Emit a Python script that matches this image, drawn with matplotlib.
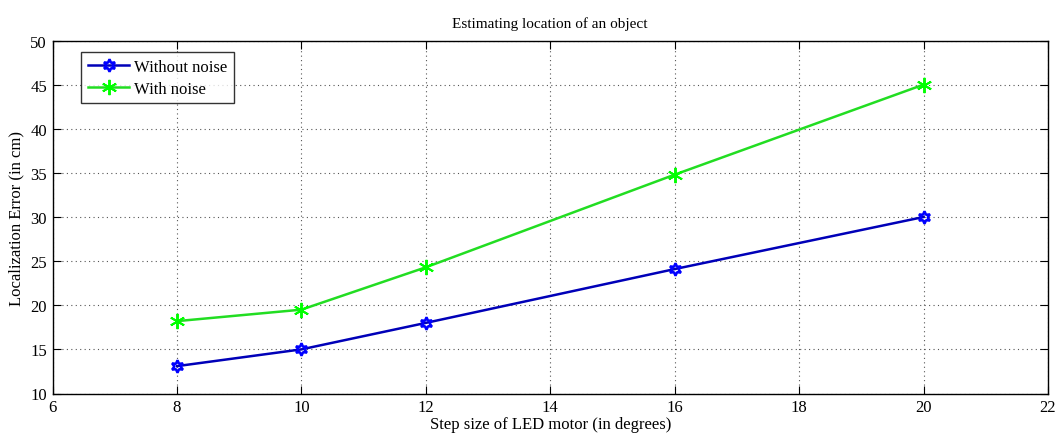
import matplotlib
matplotlib.use("Agg")
import matplotlib.pyplot as plt

x_steps = [8, 10, 12, 16, 20]
err_without_noise = [13.1, 15.0, 18.0, 24.1, 30.0]
err_with_noise = [18.2, 19.5, 24.3, 34.8, 45.0]
x_ticks = [6, 8, 10, 12, 14, 16, 18, 20, 22]
y_ticks = [10, 15, 20, 25, 30, 35, 40, 45, 50]

plt.rcParams['font.family'] = ['Liberation Serif', 'DejaVu Serif']
plt.rcParams['font.size'] = 11

fig = plt.figure(figsize=(10.57, 4.35), dpi=100)
W, H = 1057, 435
ax = fig.add_axes([52.5 / W, 1 - 394.5 / H, (1048 - 52.5) / W, (394.5 - 41.5) / H])

ax.plot(x_steps, err_without_noise, color='#0000b8', lw=1.8, marker=(6, 1, 0),
        markersize=9, markerfacecolor='none', markeredgewidth=1.8,
        markeredgecolor='#0000ff', label='Without noise')
ax.plot(x_steps, err_with_noise, color='#22dd22', lw=1.8, marker=(6, 2, 0),
        markersize=11, markeredgewidth=1.4, markeredgecolor='#00ff00',
        label='With noise')

ax.set_xlim(6, 22)
ax.set_ylim(10, 50)
ax.set_xticks(x_ticks)
ax.set_yticks(y_ticks)
ax.grid(True, linestyle=(0, (1, 3)), color='#555555', linewidth=0.8)
ax.tick_params(direction='in', length=6, top=True, right=True, labelsize=12, pad=4)
for s in ax.spines.values():
    s.set_linewidth(1.0)

ax.set_title('Estimating location of an object', fontsize=11, pad=10)
ax.set_xlabel('Step size of LED motor (in degrees)', fontsize=12, labelpad=1)
ax.set_ylabel('Localization Error (in cm)', fontsize=12, labelpad=4)

leg = ax.legend(loc='upper left', bbox_to_anchor=(28.5 / 995.5, 1 - 11.5 / 353),
                fancybox=False, edgecolor='black', fontsize=12,
                handlelength=2.5, borderpad=0.4, labelspacing=0.35,
                handletextpad=0.3, borderaxespad=0)
leg.get_frame().set_linewidth(1.0)

fig.savefig('out.png', dpi=100)
